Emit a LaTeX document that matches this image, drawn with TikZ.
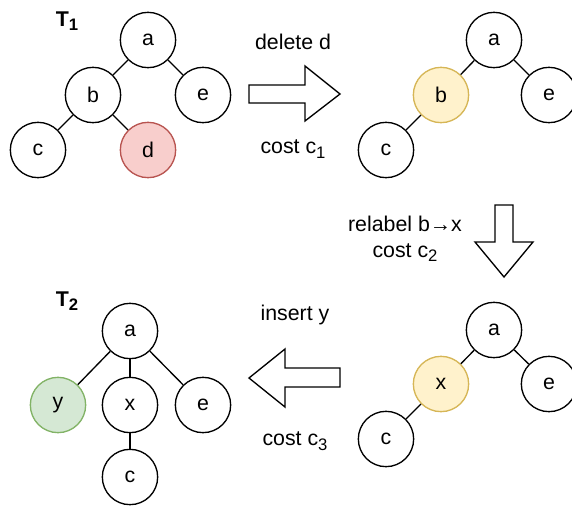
\documentclass[tikz,border=0pt]{standalone}
\usepackage{fontspec}
\setmainfont{Liberation Sans}
\usepackage{xcolor}
\usepackage{tikz}
\usetikzlibrary{positioning,calc}

\definecolor{delfill}{HTML}{F8CECC}
\definecolor{deldraw}{HTML}{B85450}
\definecolor{relfill}{HTML}{FFF2CC}
\definecolor{reldraw}{HTML}{D6B656}
\definecolor{insfill}{HTML}{D5E8D4}
\definecolor{insdraw}{HTML}{82B366}

% subscript as the picture sets it
\newcommand{\lowidx}[1]{\raisebox{-3.5pt}{\fontsize{12.5}{14}\selectfont #1}}

\begin{document}
\begin{tikzpicture}[x=0.75pt,y=-0.75pt,
  treenode/.style={circle, draw, line width=1pt, fill=white, minimum size=41.5pt, inner sep=0pt, font=\fontsize{16}{19}\selectfont},
  delnode/.style={treenode, fill=delfill, draw=deldraw},
  relnode/.style={treenode, fill=relfill, draw=reldraw},
  insnode/.style={treenode, fill=insfill, draw=insdraw},
  edge/.style={line width=1pt},
  bigarrow/.style={draw, line width=1pt, fill=white, line join=miter},
  steplabel/.style={font=\fontsize{16}{19}\selectfont, align=center},
  treename/.style={font=\bfseries\fontsize{16}{19}\selectfont}]
  \useasboundingbox (0,0) rectangle (572,507);

  % tree T1
  \node[treename] (t1) at (67,21) {T\lowidx{1}};
  \node[treenode] (a1) at (148,40) {a};
  \node[treenode] (b1) at (93,95) {b};
  \node[treenode] (e1) at (203,95) {e};
  \node[treenode] (c1) at (38,150) {c};
  \node[delnode] (d1) at (148,150) {d};
  \foreach \u/\v in {a1/b1, a1/e1, b1/c1, b1/d1}
    \draw[edge] (\u) -- (\v);

  % after delete
  \node[treenode] (a2) at (494,40) {a};
  \node[relnode] (b2) at (441,95) {b};
  \node[treenode] (e2) at (549,95) {e};
  \node[treenode] (c2) at (386,150) {c};
  \foreach \u/\v in {a2/b2, a2/e2, b2/c2}
    \draw[edge] (\u) -- (\v);

  % after relabel
  \node[treenode] (a3) at (494,330) {a};
  \node[relnode] (x3) at (441,384) {x};
  \node[treenode] (e3) at (549,384) {e};
  \node[treenode] (c3) at (386,439) {c};
  \foreach \u/\v in {a3/x3, a3/e3, x3/c3}
    \draw[edge] (\u) -- (\v);

  % tree T2
  \node[treename] (t2) at (67,301) {T\lowidx{2}};
  \node[treenode] (a4) at (130,331) {a};
  \node[insnode] (y4) at (58,405) {y};
  \node[treenode] (x4) at (130,405) {x};
  \node[treenode] (e4) at (203,405) {e};
  \node[treenode] (c4) at (130,477) {c};
  \foreach \u/\v in {a4/y4, a4/x4, a4/e4, x4/c4}
    \draw[edge] (\u) -- (\v);

  % step arrows
  \draw[bigarrow] (249,85) -- (305,85) -- (305,66) -- (340,94) -- (305,121)
    -- (305,103) -- (249,103) -- cycle;
  \draw[bigarrow] (495,205) -- (513,205) -- (513,242) -- (533,242) -- (504,277)
    -- (475,242) -- (495,242) -- cycle;
  \draw[bigarrow] (340,368) -- (285,368) -- (285,349) -- (249,378) -- (285,407)
    -- (285,387) -- (340,387) -- cycle;

  % step labels
  \node[steplabel] (del) at (293,42) {delete d};
  \node[steplabel] (delcost) at (293,149) {cost c\lowidx{1}};
  \node[steplabel] (rel) at (405,239) {relabel b→x\\cost c\lowidx{2}};
  \node[steplabel] (ins) at (295,315) {insert y};
  \node[steplabel] (inscost) at (295,441) {cost c\lowidx{3}};
\end{tikzpicture}
\end{document}
